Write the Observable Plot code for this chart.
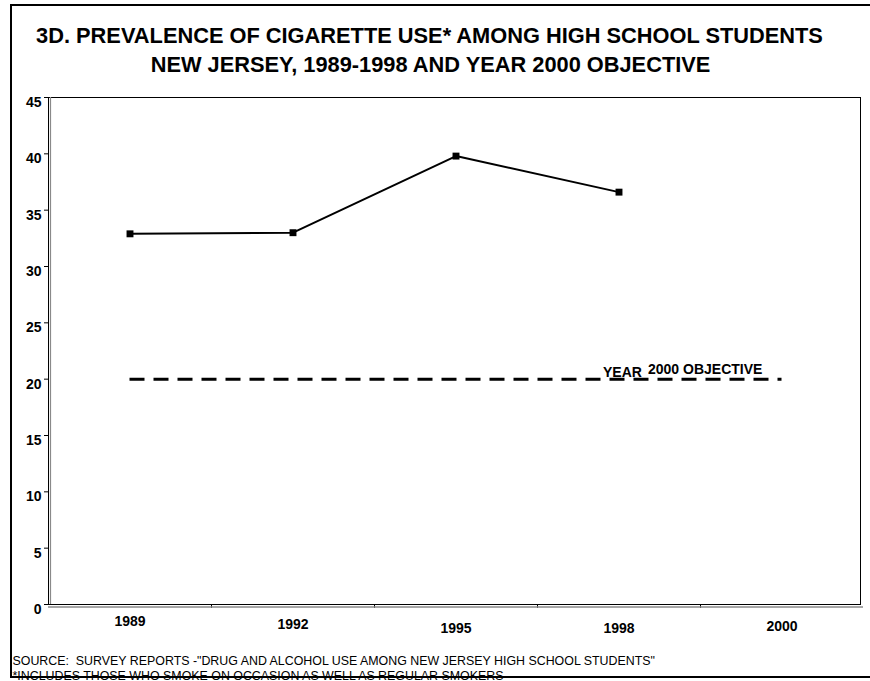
<!DOCTYPE html>
<html>
<head>
<meta charset="utf-8">
<script src="https://cdn.jsdelivr.net/npm/d3@7"></script>
<script src="https://cdn.jsdelivr.net/npm/@observablehq/plot@0.6"></script>
<style>
  body { margin: 0; background: #fff; }
  #wrap { position: relative; width: 870px; height: 681px; overflow: hidden; }
  #chart { position: absolute; left: 0; top: 0; }
  #border {
    position: absolute; left: 10px; top: 4px; width: 870px; height: 670px;
    border-left: 2px solid #000; border-top: 2px solid #000; border-bottom: 2px solid #000;
    pointer-events: none;
  }
</style>
</head>
<body>
<div id="wrap"><div id="chart"></div><div id="border"></div></div>
<script>
// Survey years shown on the category axis
const years = ["1989", "1992", "1995", "1998", "2000"];
// Years with survey results
const surveyYears = ["1989", "1992", "1995", "1998"];
// Percent of high school students who smoke cigarettes
const prevalence = [32.9, 33.0, 39.8, 36.6];
// Year 2000 objective (percent) and the years it spans
const objective = 20;
const objectiveFrom = "1989";
const objectiveTo = "2000";
const objectiveWords = ["YEAR", "2000 OBJECTIVE"];
// Value axis ticks
const yTicks = [0, 5, 10, 15, 20, 25, 30, 35, 40, 45];
// Headings and notes
const titleLines = [
  "3D. PREVALENCE OF CIGARETTE USE* AMONG HIGH SCHOOL STUDENTS",
  "NEW JERSEY, 1989-1998 AND YEAR 2000 OBJECTIVE"
];
const notes = [
  "SOURCE:  SURVEY REPORTS -\"DRUG AND ALCOHOL USE AMONG NEW JERSEY HIGH SCHOOL STUDENTS\"",
  "*INCLUDES THOSE WHO SMOKE ON OCCASION AS WELL AS REGULAR SMOKERS"
];

// Each category occupies one unit on the x scale; its centre is at index + 0.5
const centre = (yr) => years.indexOf(yr) + 0.5;
const series = surveyYears.map((yr, i) => ({ pos: centre(yr), value: prevalence[i] }));

// Small vertical nudges of the year labels below the axis
const yearLabelDy = [21, 24, 28, 28, 26];

const font = "'Liberation Sans', Arial, Helvetica, sans-serif";

const chart = Plot.plot({
  width: 870,
  height: 681,
  marginLeft: 48,
  marginRight: 7,
  marginTop: 97,
  marginBottom: 77,
  style: { fontFamily: font, background: "#fff", color: "#000", overflow: "visible" },
  x: {
    domain: [0, years.length],
    ticks: d3.range(1, years.length),
    tickSize: 4,
    tickFormat: () => "",
    label: null
  },
  y: {
    domain: [0, 45],
    ticks: yTicks,
    tickSize: 4,
    tickFormat: () => "",
    label: null
  },
  marks: [
    // plot area outline with a soft shadow on the left and bottom
    Plot.frame({ stroke: "#000", strokeWidth: 1, insetRight: 3 }),
    Plot.ruleY([0], { dy: 2.5, stroke: "#8a8a8a", strokeWidth: 1.3 }),
    Plot.ruleX([0], { dx: 2, stroke: "#8a8a8a", strokeWidth: 1.2 }),

    // value axis labels
    Plot.text(yTicks, {
      x: () => 0, y: (d) => d, text: (d) => String(d),
      textAnchor: "end", dx: -7, dy: 5,
      fontSize: 14, fontWeight: "bold"
    }),

    // year labels
    ...years.map((yr, i) => Plot.text([yr], {
      x: () => centre(yr), frameAnchor: "bottom", text: (d) => d,
      dy: yearLabelDy[i], fontSize: 14, fontWeight: "bold"
    })),

    // year 2000 objective
    Plot.ruleY([objective], {
      x1: centre(objectiveFrom), x2: centre(objectiveTo),
      stroke: "#000", strokeWidth: 3, strokeDasharray: "15,9"
    }),
    Plot.text([objectiveWords[0]], {
      x: () => centre("1998"), y: () => objective, text: (d) => d,
      textAnchor: "start", dx: -16, dy: -7, fontSize: 14, fontWeight: "bold"
    }),
    Plot.text([objectiveWords[1]], {
      x: () => centre("1998"), y: () => objective, text: (d) => d,
      textAnchor: "start", dx: 29, dy: -10, fontSize: 14, fontWeight: "bold"
    }),

    // prevalence trend
    Plot.line(series, { x: "pos", y: "value", stroke: "#000", strokeWidth: 2 }),
    Plot.dot(series, { x: "pos", y: "value", symbol: "square", r: 3.9, fill: "#000", stroke: null }),

    // title
    Plot.text([titleLines[0]], {
      frameAnchor: "top-left", dx: 381, dy: -70, text: (d) => d,
      textAnchor: "middle", fontSize: 21.8, fontWeight: "bold"
    }),
    Plot.text([titleLines[1]], {
      frameAnchor: "top-left", dx: 382, dy: -41, text: (d) => d,
      textAnchor: "middle", fontSize: 21.8, fontWeight: "bold"
    }),

    // source and footnote
    Plot.text([notes[0]], {
      frameAnchor: "bottom-left", dx: -36, dy: 60, text: (d) => d,
      textAnchor: "start", fontSize: 12.4
    }),
    Plot.text([notes[1]], {
      frameAnchor: "bottom-left", dx: -36, dy: 75, text: (d) => d,
      textAnchor: "start", fontSize: 12.4
    })
  ]
});

document.getElementById("chart").append(chart);
</script>
</body>
</html>
